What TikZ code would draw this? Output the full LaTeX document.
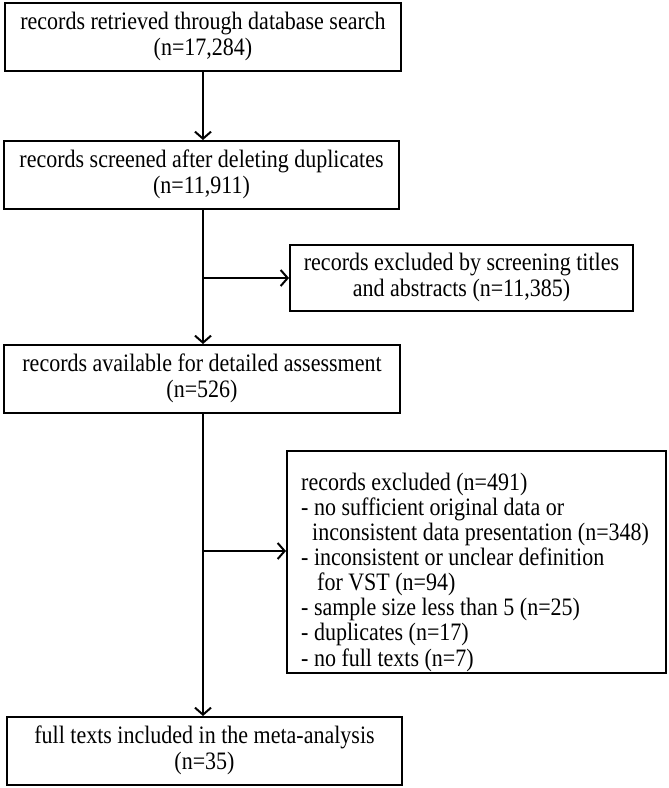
\documentclass[tikz,border=0pt]{standalone}
\usepackage{fontspec}
\usepackage{graphicx}
\setmainfont{Liberation Serif}
\usetikzlibrary{arrows.meta}
\newcommand{\vsc}[1]{\raisebox{-3pt}{\scalebox{1}[1.14]{\begin{tabular}{@{}c@{}}#1\end{tabular}}}}
\newcommand{\vsl}[1]{\scalebox{1}[1.14]{\begin{tabular}{@{}l@{}}#1\end{tabular}}}
\begin{document}
\begin{tikzpicture}[x=1pt,y=-1pt,
  box/.style={draw, line width=2pt, inner sep=0pt, align=center,
    font=\fontsize{22}{22.6}\selectfont},
  conn/.style={line width=2pt},
  arr/.style={conn, -{Straight Barb[length=7pt,width=16pt,line width=2pt]}}]
\useasboundingbox (0,0) rectangle (669,788);
\node[box, minimum width=396pt, minimum height=68pt] (b1) at (203,37)
  {\vsc{records retrieved through database search\\(n=17,284)}};
\node[box, minimum width=395pt, minimum height=68pt] (b2) at (201.5,175)
  {\vsc{records screened after deleting duplicates\\(n=11,911)}};
\node[box, minimum width=343pt, minimum height=66pt] (b3) at (461.5,278)
  {\vsc{records excluded by screening titles\\and abstracts (n=11,385)}};
\node[box, minimum width=396pt, minimum height=68pt] (b4) at (202,379)
  {\vsc{records available for detailed assessment\\(n=526)}};
\node[box, minimum width=379pt, minimum height=222pt] (b5) at (476.5,562) {};
\node[anchor=west, inner sep=0pt, font=\fontsize{22}{22}\selectfont] (b5t) at ([xshift=15pt,yshift=-11pt]b5.west)
  {\vsl{records excluded (n=491)\\
   - no sufficient original data or\\
   \hspace*{11pt}inconsistent data presentation (n=348)\\
   - inconsistent or unclear definition\\
   \hspace*{16pt}for VST (n=94)\\
   - sample size less than 5 (n=25)\\
   - duplicates (n=17)\\
   - no full texts (n=7)}};
\node[box, minimum width=395pt, minimum height=68pt] (b6) at (204.5,751)
  {\vsc{full texts included in the meta-analysis\\(n=35)}};
\coordinate (j1) at (203,278);
\coordinate (j2) at (203,551);
\draw[arr] (b1.south -| j1) -- (b2.north -| j1);
\draw[arr] (b2.south -| j1) -- (b4.north -| j1);
\draw[arr] (j1) -- (j1 -| b3.west);
\draw[arr] (b4.south -| j1) -- (b6.north -| j1);
\draw[arr] (j2) -- (j2 -| b5.west);
\end{tikzpicture}
\end{document}
